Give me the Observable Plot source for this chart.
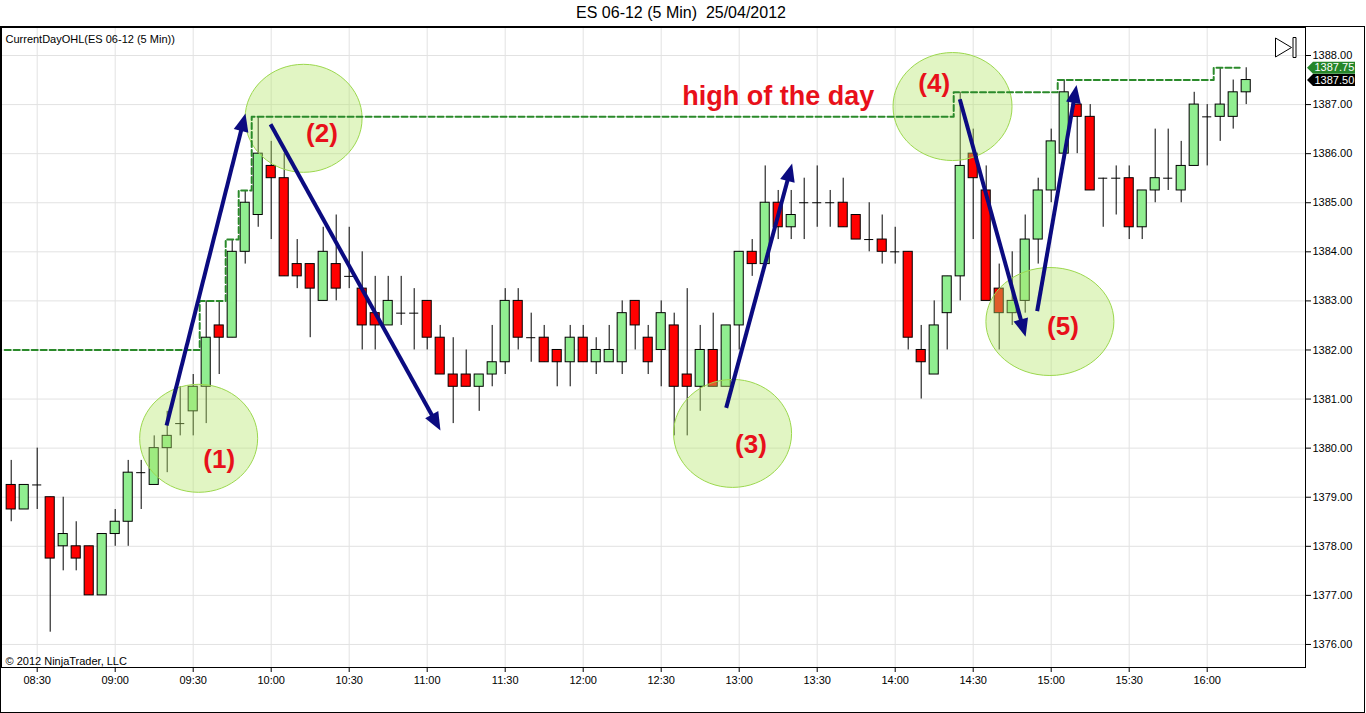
<!DOCTYPE html>
<html><head><meta charset="utf-8">
<script src="https://cdn.jsdelivr.net/npm/d3@7"></script>
<script src="https://cdn.jsdelivr.net/npm/@observablehq/plot@0.6"></script>
<style>
body{margin:0;background:#fff;font-family:"Liberation Sans",Arial,sans-serif;}
#title{position:absolute;left:0;top:0;width:1362px;height:26px;text-align:center;font-size:16px;line-height:26px;white-space:pre;color:#000;}
#chart{position:absolute;left:0;top:26px;width:1363px;height:685px;border:1px solid #000;overflow:hidden;}
#chart svg{display:block;}
</style></head><body>
<div id="title">ES 06-12 (5 Min)  25/04/2012</div>
<div id="chart"></div>
<script>
// ---------- data ----------
const times = [
"08:20","08:25","08:30","08:35","08:40","08:45","08:50","08:55",
"09:00","09:05","09:10","09:15","09:20","09:25","09:30","09:35","09:40","09:45","09:50","09:55",
"10:00","10:05","10:10","10:15","10:20","10:25","10:30","10:35","10:40","10:45","10:50","10:55",
"11:00","11:05","11:10","11:15","11:20","11:25","11:30","11:35","11:40","11:45","11:50","11:55",
"12:00","12:05","12:10","12:15","12:20","12:25","12:30","12:35","12:40","12:45","12:50","12:55",
"13:00","13:05","13:10","13:15","13:20","13:25","13:30","13:35","13:40","13:45","13:50","13:55",
"14:00","14:05","14:10","14:15","14:20","14:25","14:30","14:35","14:40","14:45","14:50","14:55",
"15:00","15:05","15:10","15:15","15:20","15:25","15:30","15:35","15:40","15:45","15:50","15:55",
"16:00","16:05","16:10","16:15"];
const open = [
1379.25,1378.75,1379.25,1379,1378,1378,1378,1377,1378.25,1378.5,
1379.5,1379.25,1380,1380.5,1380.75,1381.25,1382.5,1382.25,1384,1384.75,
1385.75,1385.5,1383.75,1383.75,1383,1383.75,1383.5,1383.25,1382.75,1382.5,
1382.75,1382.75,1383,1382.25,1381.5,1381.5,1381.25,1381.5,1381.75,1383,
1382.25,1382.25,1382,1381.75,1382.25,1381.75,1381.75,1381.75,1383,1382.25,
1382,1382.5,1381.5,1381.25,1382,1381.25,1382.5,1384,1383.75,1385,
1384.5,1385,1385,1385,1385,1384.75,1384.25,1384.25,1384,1384,
1382,1381.5,1382.75,1383.5,1386,1385.25,1383.25,1382.75,1383,1384.25,
1385.25,1386,1387,1386.75,1385.5,1385.5,1385.5,1384.5,1385.25,1385.5,
1385.25,1385.75,1386.75,1386.75,1386.75,1387.25];
const high = [
1379.75,1379.25,1380,1379,1379,1378.5,1378,1378.25,1378.75,1379.75,
1379.75,1380.25,1380.75,1381.25,1381.5,1383,1383,1384.25,1385.25,1386.75,
1386.25,1386,1384.25,1383.75,1384.5,1384.75,1384.5,1384,1383.5,1383.5,
1383.5,1383.25,1383,1382.5,1382.25,1382,1381.5,1382.5,1383.25,1383.25,
1382.75,1382.5,1382,1382.5,1382.5,1382.25,1382.5,1383,1383,1382.5,
1383,1382.75,1383.25,1382.5,1382.75,1382.5,1384,1384.25,1385.75,1385.25,
1385.25,1385.5,1385.75,1385.25,1385.5,1384.75,1385,1384.75,1384.5,1384,
1382.5,1383,1383.5,1387.25,1386.5,1385.75,1383.75,1384,1384.75,1385.5,
1386.5,1387.5,1387,1387,1385.5,1385.75,1385.75,1385.25,1386.5,1386.5,
1386.25,1387.25,1387,1387.75,1387.5,1387.75];
const low = [
1378.5,1378.75,1378.75,1376.25,1377.5,1377.5,1377,1377,1378,1378,
1378.75,1379.25,1379.5,1380.25,1380.25,1380.5,1381.5,1382.25,1383.75,1384.5,
1384.25,1383.5,1383.25,1382.25,1383,1383,1383.25,1382,1382,1382.5,
1382.5,1382,1382,1381.5,1380.5,1381.25,1380.75,1381.25,1381.5,1382,
1381.75,1381.75,1381.25,1381.25,1381.75,1381.5,1381.75,1381.5,1382,1381.5,
1381.25,1380.25,1380.25,1380.75,1381.25,1381.25,1382,1383.5,1383.75,1384.25,
1384.25,1384.25,1384.5,1384.5,1384.5,1384.25,1384,1383.75,1383.75,1382,
1381,1381.5,1382,1383,1384.25,1383,1382,1382.5,1382.75,1383.75,
1385,1386,1386,1385.25,1384.5,1384.75,1384.25,1384.25,1385,1385.25,
1385,1385.75,1385.75,1386.25,1386.5,1387];
const close = [
1378.75,1379.25,1379.25,1377.75,1378.25,1377.75,1377,1378.25,1378.5,1379.5,
1379.5,1380,1380.25,1380.5,1381.25,1382.25,1382.25,1384,1385,1386,
1385.5,1383.5,1383.5,1383.25,1384,1383.25,1383.5,1382.5,1382.5,1383,
1382.75,1382.75,1382.25,1381.5,1381.25,1381.25,1381.5,1381.75,1383,1382.25,
1382.25,1381.75,1381.75,1382.25,1381.75,1382,1382,1382.75,1382.5,1381.75,
1382.75,1381.25,1381.25,1382,1381.25,1382.5,1384,1383.75,1385,1384.5,
1384.75,1385,1385,1385,1384.5,1384.25,1384.25,1384,1384,1382.25,
1381.75,1382.5,1383.5,1385.75,1385.5,1383,1382.75,1383,1384.25,1385.25,
1386.25,1387.25,1386.75,1385.25,1385.5,1385.5,1384.5,1385.25,1385.5,1385.5,
1385.75,1387,1386.75,1387,1387.25,1387.5];

const tickTimes = ["08:30","09:00","09:30","10:00","10:30","11:00","11:30","12:00","12:30","13:00","13:30","14:00","14:30","15:00","15:30","16:00"];
const priceTicks = [1376,1377,1378,1379,1380,1381,1382,1383,1384,1385,1386,1387,1388];

// CurrentDayOHL high-of-day steps (bar time where a new high starts, level)
const dayHighTimes = ["08:20","09:35","09:45","09:50","09:55","14:25","15:05","16:05"];
const dayHighValues = [1382,1383,1384.25,1385.25,1386.75,1387.25,1387.5,1387.75];

const lastHighLabel = "1387.75", lastHighValue = 1387.75;
const lastPriceLabel = "1387.50", lastPriceValue = 1387.5;

// annotations (x in bar positions, y in price)
const circleNames = ["(1)","(2)","(3)","(4)","(5)"];
const circleX = [14.42, 22.49, 55.49, 72.41, 79.9];
const circleY = [1380.20, 1386.72, 1380.30, 1386.96, 1382.58];
const circleRX = [59, 58.5, 59, 59.5, 64];
const labelX = [16.0, 23.9, 56.9, 71.0, 80.9];
const labelY = [1379.77, 1386.41, 1380.07, 1387.42, 1382.48];
const noteText = ["high of the day"];
const noteX = [59.0], noteY = [1387.16];
const arrowX1 = [11.95, 19.95, 55.00, 72.97, 78.92];
const arrowY1 = [1380.46, 1386.60, 1380.82, 1387.11, 1382.79];
const arrowX2 = [18.02, 33.02, 60.07, 78.03, 81.95];
const arrowY2 = [1386.82, 1380.36, 1385.80, 1382.27, 1387.40];

// ---------- layout ----------
const W = 1363, H = 685, MR = 59, MB = 45, ML = 0, MT = 0;
const xDomain = [-9.7/13, (W - MR - 9.7)/13];
const yDomain = [1388 - (H - MB - 28)/49.08, 1388 + 28/49.08];
const navy = "#0b0b80";
const red = "#e8101a";

const pos = t => times.indexOf(t);
const bars = times.map((t, i) => ({i, t, o: open[i], h: high[i], l: low[i], c: close[i]}));
const up = bars.filter(d => d.c > d.o);
const down = bars.filter(d => d.c < d.o);
const doji = bars.filter(d => d.c === d.o);
const tickIdx = tickTimes.map(pos);

const hiPts = dayHighTimes.map((t, k) => ({x: pos(t) - 0.5, v: dayHighValues[k]}));
hiPts.push({x: times.length - 1.5, v: dayHighValues[dayHighValues.length - 1]});

const circles = circleNames.map((n, k) => ({n, x: circleX[k], y: circleY[k], rx: circleRX[k], lx: labelX[k], ly: labelY[k]}));

const X = Plot.scale({x: {type: "linear", domain: xDomain, range: [ML, W - MR]}});
const Y = Plot.scale({y: {type: "linear", domain: yDomain, range: [H - MB, MT]}});

const arrows = arrowX1.map((x1, k) => {
  const px1 = X.apply(x1), py1 = Y.apply(arrowY1[k]);
  const px2 = X.apply(arrowX2[k]), py2 = Y.apply(arrowY2[k]);
  const dx = px2 - px1, dy = py2 - py1, L = Math.hypot(dx, dy);
  const ux = dx / L, uy = dy / L;
  const len = 18, hw = 7.5;
  return {
    x1, y1: arrowY1[k], x2: arrowX2[k], y2: arrowY2[k],
    ex: X.invert(px2 - ux * 12), ey: Y.invert(py2 - uy * 12),
    head: {draw(ctx) {
      ctx.moveTo(0, 0);
      ctx.lineTo(-ux * len - uy * hw, -uy * len + ux * hw);
      ctx.lineTo(-ux * len + uy * hw, -uy * len - ux * hw);
      ctx.closePath();
    }}
  };
});

const ellipse = (rx, ry) => ({draw(ctx) {
  const k = 0.5523;
  ctx.moveTo(rx, 0);
  ctx.bezierCurveTo(rx, ry * k, rx * k, ry, 0, ry);
  ctx.bezierCurveTo(-rx * k, ry, -rx, ry * k, -rx, 0);
  ctx.bezierCurveTo(-rx, -ry * k, -rx * k, -ry, 0, -ry);
  ctx.bezierCurveTo(rx * k, -ry, rx, -ry * k, rx, 0);
  ctx.closePath();
}});

const tagSym = {draw(ctx) {
  ctx.moveTo(0, 0); ctx.lineTo(6, -6); ctx.lineTo(48, -6); ctx.lineTo(48, 6); ctx.lineTo(6, 6); ctx.closePath();
}};
const iconSym = {draw(ctx) {
  ctx.moveTo(-10, -9.5); ctx.lineTo(6, 0); ctx.lineTo(-10, 9.5); ctx.closePath();
  ctx.moveTo(7.5, -10); ctx.lineTo(10.5, -10); ctx.lineTo(10.5, 10); ctx.lineTo(7.5, 10); ctx.closePath();
}};

const bw = 0.35;
const plot = Plot.plot({
  width: W, height: H,
  marginLeft: ML, marginRight: MR, marginTop: MT, marginBottom: MB,
  style: {background: "#fff", fontFamily: "'Liberation Sans', Arial, sans-serif", fontSize: "11px", color: "#000", overflow: "visible"},
  x: {type: "linear", domain: xDomain, ticks: tickIdx, tickFormat: i => times[i], tickSize: 5, tickPadding: 4, label: null},
  y: {type: "linear", domain: yDomain, axis: "right", ticks: priceTicks, tickFormat: d => d.toFixed(2), tickSize: 5, tickPadding: 2, label: null},
  marks: [
    Plot.ruleY(priceTicks, {y: d => d, stroke: "#e2e2e2"}),
    Plot.ruleX(tickIdx, {x: d => d, stroke: "#e2e2e2"}),
    Plot.ruleX(bars, {x: "i", y1: "l", y2: "h", stroke: "#000", strokeWidth: 1}),
    Plot.rect(up, {x1: d => d.i - bw, x2: d => d.i + bw, y1: "o", y2: "c", fill: "#90ee90", stroke: "#000", strokeWidth: 1}),
    Plot.rect(down, {x1: d => d.i - bw, x2: d => d.i + bw, y1: "o", y2: "c", fill: "#ff0000", stroke: "#000", strokeWidth: 1}),
    Plot.ruleY(doji, {y: "o", x1: d => d.i - bw, x2: d => d.i + bw, stroke: "#000", strokeWidth: 1}),
    ...circles.map(c => Plot.dot([c], {x: "x", y: "y", symbol: ellipse(c.rx, 54), fill: "#b3e66a", fillOpacity: 0.4, stroke: "#9cd84e", strokeWidth: 1})),
    Plot.line(hiPts, {x: "x", y: "v", curve: "step-after", stroke: "#2b8a2b", strokeWidth: 2, strokeDasharray: "6,3"}),
    Plot.link(arrows, {x1: "x1", y1: "y1", x2: "ex", y2: "ey", stroke: navy, strokeWidth: 4}),
    ...arrows.map(a => Plot.dot([a], {x: "x2", y: "y2", symbol: a.head, fill: navy, stroke: "none"})),
    Plot.text(circles, {x: "lx", y: "ly", text: "n", fill: red, fontSize: 26, fontWeight: "bold"}),
    Plot.text(noteText, {x: () => noteX[0], y: () => noteY[0], text: d => d, fill: red, fontSize: 27, fontWeight: "bold"}),
    Plot.frame({stroke: "#000"}),
    Plot.dot([lastHighValue], {y: d => d, frameAnchor: "right", dx: 1.5, symbol: tagSym, fill: "#25862a", stroke: "none"}),
    Plot.text([lastHighLabel], {y: () => lastHighValue, frameAnchor: "right", dx: 9, textAnchor: "start", text: d => d, fill: "#fff", fontSize: 11}),
    Plot.dot([lastPriceValue], {y: d => d, frameAnchor: "right", dx: 1.5, symbol: tagSym, fill: "#000", stroke: "none"}),
    Plot.text([lastPriceLabel], {y: () => lastPriceValue, frameAnchor: "right", dx: 9, textAnchor: "start", text: d => d, fill: "#fff", fontSize: 11}),
    Plot.dot([0], {frameAnchor: "top-right", dx: -20, dy: 20, symbol: iconSym, fill: "#fff", stroke: "#000", strokeWidth: 1}),
    Plot.text(["CurrentDayOHL(ES 06-12 (5 Min))"], {frameAnchor: "top-left", dx: 4, dy: 8, textAnchor: "start", text: d => d, fontSize: 11, fill: "#000"}),
    Plot.text(["© 2012 NinjaTrader, LLC"], {frameAnchor: "bottom-left", dx: 4, dy: -3, textAnchor: "start", text: d => d, fontSize: 11, fill: "#000"})
  ]
});
document.getElementById("chart").appendChild(plot);
</script>
</body></html>
